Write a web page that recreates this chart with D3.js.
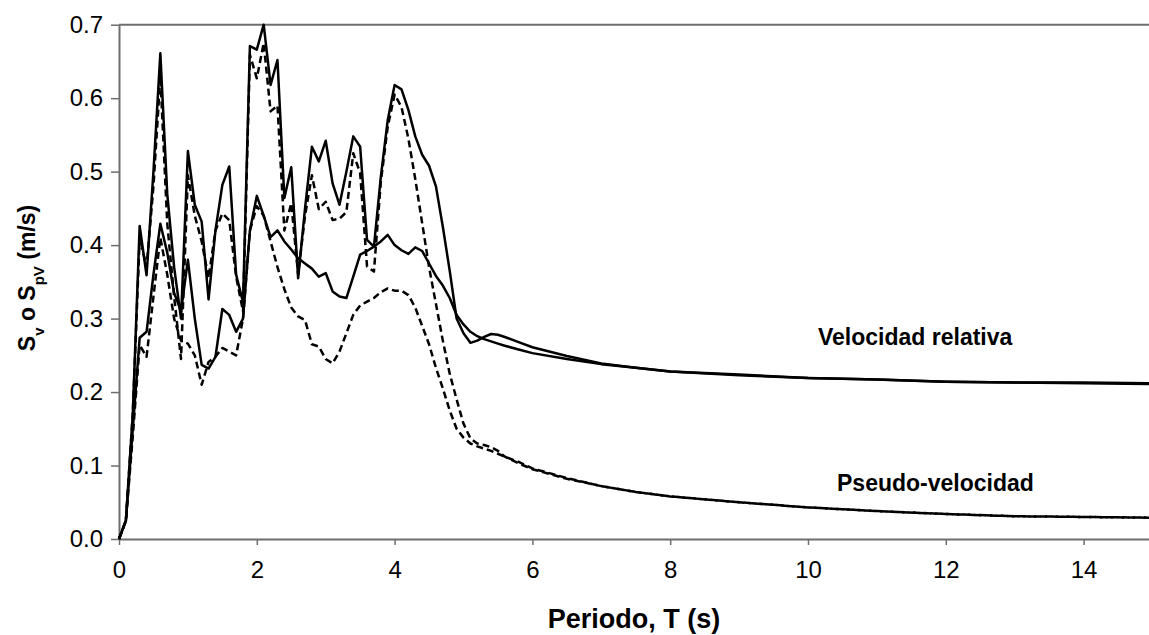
<!DOCTYPE html>
<html>
<head>
<meta charset="utf-8">
<script src="https://cdn.jsdelivr.net/npm/d3@7"></script>
<style>
  body { margin: 0; background: #fff; }
  text { font-family: "Liberation Sans", Arial, sans-serif; }
</style>
</head>
<body>
<svg id="chart" width="1149" height="635"></svg>
<script>
// periods T (s)
const periods = [
  0, 0.1, 0.2, 0.3, 0.4, 0.5, 0.6, 0.7, 0.8, 0.9,
  1.0, 1.1, 1.2, 1.3, 1.4, 1.5, 1.6, 1.7, 1.8, 1.9,
  2.0, 2.1, 2.2, 2.3, 2.4, 2.5, 2.6, 2.7, 2.8, 2.9,
  3.0, 3.1, 3.2, 3.3, 3.4, 3.5, 3.6, 3.7, 3.8, 3.9,
  4.0, 4.1, 4.2, 4.3, 4.4, 4.5, 4.6, 4.7, 4.8, 4.9,
  5.0,
  5.1, 5.2, 5.3, 5.4, 5.5, 5.6, 5.8, 6.0, 6.5, 7, 7.5, 8, 9, 10, 11, 12, 13, 14, 15
];

// relative velocity, low damping (solid)
const svLow = [
  0, 0.025, 0.17, 0.426, 0.359, 0.50, 0.661, 0.47, 0.37, 0.30,
  0.528, 0.455, 0.432, 0.326, 0.42, 0.482, 0.507, 0.36, 0.322, 0.671,
  0.666, 0.70, 0.618, 0.652, 0.464, 0.506, 0.355, 0.45, 0.534, 0.514,
  0.542, 0.484, 0.455, 0.50, 0.548, 0.534, 0.407, 0.398, 0.493, 0.570,
  0.618, 0.612, 0.584, 0.548, 0.523, 0.508, 0.48, 0.425, 0.365, 0.30,
  0.28,
  0.267, 0.270, 0.275, 0.279, 0.278, 0.275, 0.268, 0.261, 0.249, 0.239, 0.233, 0.228, 0.224, 0.219, 0.217, 0.214, 0.213, 0.213, 0.212
];

// pseudo-velocity, low damping (dashed)
const spvLow = [
  0, 0.025, 0.17, 0.41, 0.37, 0.48, 0.63, 0.43, 0.33, 0.245,
  0.495, 0.44, 0.405, 0.355, 0.42, 0.443, 0.434, 0.357, 0.31, 0.659,
  0.627, 0.675, 0.582, 0.59, 0.42, 0.457, 0.36, 0.44, 0.495, 0.449,
  0.459, 0.434, 0.436, 0.445, 0.525, 0.498, 0.371, 0.364, 0.486, 0.561,
  0.605, 0.588, 0.545, 0.49, 0.43, 0.37, 0.32, 0.27, 0.225, 0.19,
  0.157,
  0.137, 0.130, 0.128, 0.125, 0.12, 0.112, 0.103, 0.095, 0.082, 0.072, 0.064, 0.058, 0.050, 0.043, 0.038, 0.034, 0.031, 0.030, 0.029
];

// relative velocity, high damping (solid)
const svHigh = [
  0, 0.025, 0.15, 0.274, 0.282, 0.36, 0.429, 0.39, 0.335, 0.31,
  0.38, 0.30, 0.237, 0.232, 0.248, 0.313, 0.305, 0.282, 0.30, 0.42,
  0.467, 0.44, 0.411, 0.42, 0.405, 0.394, 0.382, 0.375, 0.368, 0.357,
  0.362, 0.337, 0.33, 0.328, 0.357, 0.387, 0.392, 0.398, 0.405, 0.414,
  0.40, 0.393, 0.388, 0.397, 0.392, 0.375, 0.358, 0.345, 0.328, 0.305,
  0.292,
  0.282, 0.276, 0.272, 0.269, 0.266, 0.263, 0.258, 0.253, 0.245, 0.238, 0.233, 0.228, 0.223, 0.219, 0.217, 0.214, 0.213, 0.212, 0.211
];

// pseudo-velocity, high damping (dashed)
const spvHigh = [
  0, 0.025, 0.14, 0.264, 0.248, 0.33, 0.41, 0.36, 0.30, 0.27,
  0.266, 0.25, 0.21, 0.241, 0.248, 0.26, 0.255, 0.25, 0.30, 0.42,
  0.453, 0.44, 0.405, 0.37, 0.34, 0.315, 0.303, 0.298, 0.265, 0.262,
  0.245, 0.239, 0.255, 0.28, 0.305, 0.318, 0.323, 0.328, 0.336, 0.341,
  0.338, 0.338, 0.332, 0.315, 0.29, 0.265, 0.233, 0.205, 0.175, 0.15,
  0.138,
  0.13, 0.126, 0.123, 0.12, 0.116, 0.112, 0.105, 0.096, 0.083, 0.072, 0.064, 0.058, 0.050, 0.043, 0.038, 0.034, 0.031, 0.030, 0.029
];

const xTicks = [0, 2, 4, 6, 8, 10, 12, 14];
const yTicks = [0, 0.1, 0.2, 0.3, 0.4, 0.5, 0.6, 0.7];

const svg = d3.select("#chart");
const LEFT = 119, RIGHT = 1152.5, TOP = 24.7, BOTTOM = 539;
const AXIS = "#6e6e6e";

const x = d3.scaleLinear().domain([0, 15]).range([LEFT, RIGHT]);
const y = d3.scaleLinear().domain([0, 0.7]).range([BOTTOM, TOP]);

// top frame line
svg.append("line")
  .attr("x1", LEFT).attr("x2", RIGHT)
  .attr("y1", TOP).attr("y2", TOP)
  .attr("stroke", AXIS).attr("stroke-width", 2);

// axes
const xAxis = svg.append("g")
  .attr("transform", `translate(0,${BOTTOM})`)
  .call(d3.axisBottom(x).tickValues(xTicks).tickSize(6).tickSizeOuter(0).tickPadding(16).tickFormat(d3.format("d")));
const yAxis = svg.append("g")
  .attr("transform", `translate(${LEFT},0)`)
  .call(d3.axisLeft(y).tickValues(yTicks).tickSize(8).tickSizeOuter(0).tickPadding(8).tickFormat(d3.format(".1f")));

[xAxis, yAxis].forEach(a => {
  a.select(".domain").attr("stroke", AXIS).attr("stroke-width", 2);
  a.selectAll(".tick line").attr("stroke", AXIS).attr("stroke-width", 1.5);
  a.selectAll(".tick text")
    .attr("fill", "#000")
    .style("font-family", "'Liberation Sans', Arial, sans-serif")
    .style("font-size", "24px");
});

// series
const line = d3.line()
  .x((d, i) => x(periods[i]))
  .y(d => y(d));

const series = [
  { values: svHigh, dash: null },
  { values: spvHigh, dash: "7,4" },
  { values: spvLow, dash: "7,4" },
  { values: svLow, dash: null }
];

svg.append("g")
  .selectAll("path")
  .data(series)
  .enter()
  .append("path")
  .attr("d", d => line(d.values))
  .attr("fill", "none")
  .attr("stroke", "#000")
  .attr("stroke-width", 2.5)
  .attr("stroke-linejoin", "round")
  .attr("stroke-dasharray", d => d.dash);

// annotations
svg.append("text")
  .attr("x", 818).attr("y", 345)
  .style("font-size", "23px").style("font-weight", "bold")
  .text("Velocidad relativa");
svg.append("text")
  .attr("x", 837).attr("y", 491)
  .style("font-size", "23px").style("font-weight", "bold")
  .text("Pseudo-velocidad");

// axis titles
svg.append("text")
  .attr("x", 634).attr("y", 628)
  .attr("text-anchor", "middle")
  .style("font-size", "27px").style("font-weight", "bold")
  .text("Periodo, T (s)");

const yt = svg.append("text")
  .attr("transform", "translate(35,278) rotate(-90)")
  .attr("text-anchor", "middle")
  .style("font-size", "23px").style("font-weight", "bold");
yt.append("tspan").text("S");
yt.append("tspan").attr("baseline-shift", "sub").style("font-size", "15px").text("v");
yt.append("tspan").text(" o S");
yt.append("tspan").attr("baseline-shift", "sub").style("font-size", "15px").text("pV");
yt.append("tspan").text(" (m/s)");
</script>
</body>
</html>
